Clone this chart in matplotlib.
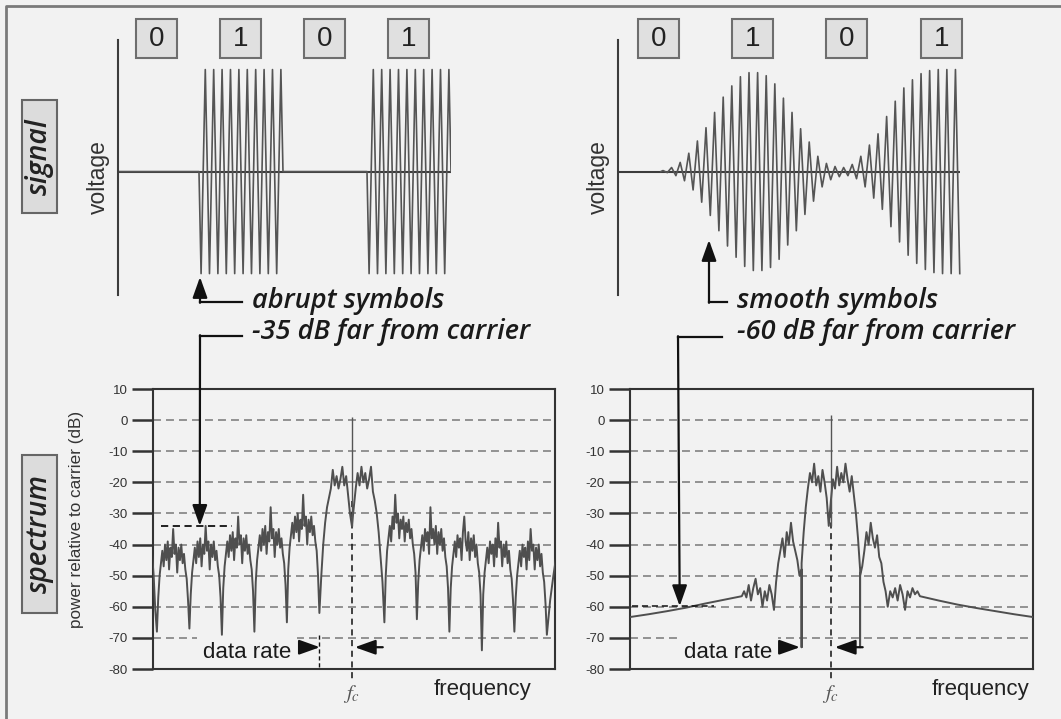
import matplotlib

matplotlib.use("Agg")
import matplotlib.pyplot as plt
import numpy as np
from matplotlib.patches import Rectangle

plt.rcParams["axes.unicode_minus"] = False

W, H = 1061, 719
BG = "#f2f2f2"
INK = "#3c3c3c"
TRACE = "#555555"
SANS = ["Liberation Sans", "DejaVu Sans"]
ITAL = ["Open Sans", "DejaVu Sans"]

# ---- data ----
bits = ["0", "1", "0", "1"]
abrupt_cycles_per_symbol = 10
# peak amplitude of each carrier cycle of the smoothed trace
smooth_cycle_amp = [0.01, 0.04, 0.09, 0.18, 0.30, 0.43, 0.58, 0.73, 0.84, 0.93,
                    0.97, 0.97, 0.94, 0.86, 0.72, 0.58, 0.42, 0.29, 0.15, 0.08,
                    0.05, 0.04, 0.07, 0.15, 0.26, 0.37, 0.54, 0.69, 0.82, 0.90,
                    0.96, 0.99, 1.0, 1.0, 1.0]

db_ticks = list(range(-80, 11, 10))
grid_db = list(range(-70, 1, 10))

# spectrum, frequency offset from carrier in units of the data rate
abrupt_edges = [-6.15, -6, -5, -4, -3, -2, -1, 1, 2, 3, 4, 5, 6, 6.3]
abrupt_lobe_db = [
    [-43, -50, -61, -68],
    [-68, -57, -50, -46, -42, -47, -40, -45, -39, -48, -41, -44, -35, -43, -40, -49, -41, -45, -40, -46, -43, -48, -51, -58, -67],
    [-67, -56, -49, -45, -41, -46, -39, -44, -38, -47, -40, -43, -34, -42, -39, -48, -40, -44, -39, -45, -42, -47, -50, -57, -69],
    [-69, -54, -47, -43, -39, -44, -37, -42, -36, -45, -38, -41, -31, -40, -37, -46, -38, -42, -37, -43, -40, -45, -48, -55, -68],
    [-68, -52, -45, -41, -37, -42, -35, -40, -34, -43, -36, -39, -28, -38, -35, -44, -36, -40, -35, -41, -38, -43, -46, -53, -65],
    [-65, -48, -41, -37, -33, -38, -31, -36, -30, -39, -32, -35, -24, -34, -31, -40, -32, -36, -31, -37, -34, -39, -42, -50, -62],
    [-62, -50, -40, -33, -28, -25, -22, -16, -21, -18, -22, -19, -15, -21, -18, -24, -30, -34,
     -28, -22, -17, -21, -15, -20, -17, -22, -19, -15, -23, -26, -30, -36, -44, -52, -65],
    [-65, -50, -42, -38, -34, -39, -31, -35, -24, -33, -30, -38, -32, -35, -31, -39, -33, -36, -32, -38, -35, -40, -43, -49, -64],
    [-64, -52, -45, -41, -37, -42, -35, -39, -36, -43, -28, -38, -35, -40, -34, -43, -36, -40, -35, -42, -38, -44, -47, -54, -68],
    [-68, -54, -47, -43, -39, -44, -37, -41, -38, -45, -36, -31, -39, -42, -36, -45, -38, -42, -37, -44, -40, -46, -49, -56, -74],
    [-74, -56, -49, -45, -41, -46, -39, -43, -40, -47, -38, -44, -33, -41, -39, -47, -40, -44, -39, -46, -42, -48, -51, -58, -68],
    [-68, -57, -50, -46, -42, -47, -40, -44, -41, -48, -39, -45, -35, -42, -40, -48, -41, -45, -40, -47, -43, -49, -52, -59, -69],
    [-69, -58, -50, -43],
]
abrupt_carrier_db = 1
abrupt_far_db = -34

smooth_edges = [-6.18, -2.74, -1.75, -0.9, -0.9, 0.9, 0.9, 1.75, 2.74, 6.22]
smooth_seg_db = [
    [-63.3, -62.4, -61.4, -60.3, -59.0, -57.8, -56.6],
    [-56.6, -55, -57, -53, -58, -54, -51, -56, -54, -60, -55, -58, -53, -56, -61],
    [-61, -52, -46, -42, -38, -44, -36, -40, -33, -39, -42, -45, -50, -48],
    [-48, -73, -46],
    [-46, -36, -28, -22, -17, -20, -14, -21, -18, -23, -16, -20, -25, -34, -26,
     -19, -22, -15, -21, -17, -20, -14, -19, -23, -18, -24, -30, -38, -48],
    [-48, -73, -50],
    [-50, -47, -42, -36, -40, -33, -38, -41, -37, -44, -46, -52, -55, -60],
    [-60, -55, -57, -54, -58, -53, -56, -61, -55, -57, -54, -56, -55, -56.6],
    [-56.6, -58.0, -59.3, -60.4, -61.4, -62.4, -63.3],
]
smooth_carrier_db = 1.5
smooth_far_db = -59.8


def rect(x0, y0, x1, y1):
    return [x0 / W, 1 - y1 / H, (x1 - x0) / W, (y1 - y0) / H]


def trace(edges, segs):
    u, d = [], []
    for a, b, vals in zip(edges[:-1], edges[1:], segs):
        u.extend(np.linspace(a, b, len(vals)))
        d.extend(vals)
    return np.array(u), np.array(d)


def arrow_props(scale=18):
    return dict(arrowstyle="-|>,head_length=0.7,head_width=0.25", color="#111111",
                lw=1.6, shrinkA=0, shrinkB=0, mutation_scale=scale)


fig = plt.figure(figsize=(W / 100, H / 100), dpi=100, facecolor=BG)


def signal_axes(x0, x1, t_lo, t_hi):
    ax = fig.add_axes(rect(x0, 40, x1, 295))
    ax.set_xlim(t_lo, t_hi)
    ax.set_ylim(-1.21, 1.29)
    ax.patch.set_alpha(0)
    for s in ["top", "right", "bottom"]:
        ax.spines[s].set_visible(False)
    ax.spines["left"].set_color(INK)
    ax.spines["left"].set_linewidth(1.5)
    ax.set_xticks([])
    ax.set_yticks([])
    ax.axhline(0, color=INK, lw=1.5, zorder=1)
    return ax


# abrupt keying
sigL = signal_axes(118, 451, 0.036, 4.0)
tl, vl = [0.0], [0.0]
for k, b in enumerate(bits):
    if b == "1":
        P = 1.0 / abrupt_cycles_per_symbol
        tl.append(k)
        vl.append(0)
        for j in range(abrupt_cycles_per_symbol):
            tl += [k + (j + 0.25) * P, k + (j + 0.75) * P]
            vl += [-1, 1]
    tl.append(k + 1)
    vl.append(0)
sigL.plot(tl, vl, color=TRACE, lw=1.2, zorder=2, solid_joinstyle="round")

# smooth keying
sigR = signal_axes(618, 960, 0.074, 3.70)
t0, P = 0.551, 0.0912
tr, vr = [t0 - 0.25 * P], [0.0]
for i, a in enumerate(smooth_cycle_amp):
    tr += [t0 + i * P, t0 + (i + 0.5) * P]
    vr += [a, -a]
sigR.plot(tr, vr, color=TRACE, lw=1.2, zorder=2, solid_joinstyle="round", clip_on=False)


def spectrum_axes(x0, x1, ulo, uhi):
    ax = fig.add_axes(rect(x0, 389, x1, 669))
    ax.set_facecolor(BG)
    ax.set_xlim(ulo, uhi)
    ax.set_ylim(-80, 10)
    ax.set_xticks([])
    ax.set_yticks(db_ticks)
    ax.tick_params(axis="y", direction="out", length=15, width=1.8, color="#333333",
                   labelsize=9.5, labelcolor="#333333", pad=3)
    for lab in ax.get_yticklabels():
        lab.set_family(SANS)
    for s in ax.spines.values():
        s.set_color("#333333")
        s.set_linewidth(1.5)
    for g in grid_db:
        ax.axhline(g, color="#8a8a8a", lw=1.3, ls=(0, (4.4, 2.8)), zorder=0.5)
    return ax


specL = spectrum_axes(153, 555, -6.12, 6.25)
specR = spectrum_axes(630, 1033, -6.18, 6.22)

ov = fig.add_axes([0, 0, 1, 1], zorder=10)
ov.set_xlim(0, W)
ov.set_ylim(H, 0)
ov.patch.set_alpha(0)
ov.axis("off")

for ax, edges, segs, carrier, dip in [
    (specL, abrupt_edges, abrupt_lobe_db, abrupt_carrier_db, -34),
    (specR, smooth_edges, smooth_seg_db, smooth_carrier_db, -34),
]:
    u, d = trace(edges, segs)
    ax.plot(u, d, color="#4f4f4f", lw=1.4, zorder=3)
    ax.vlines(0, dip, carrier, color="#555555", lw=1.0, zorder=3)
    ax.plot([0, 0], [-26, -83.5], color="#111111", lw=1.1, ls=(0, (4, 3)),
            zorder=2, clip_on=False)
    ax.text(0, -88, r"$f_c$", ha="center", va="center", fontsize=15,
            color="#555555", math_fontfamily="stix")

# data-rate markers
specL.plot([-1, -1], [-69, -80], color="#111111", lw=1.0, ls=(0, (3, 2)), zorder=2)
specL.annotate("", xy=(-0.985, -73), xytext=(-1.54, -73), arrowprops=arrow_props())
specL.annotate("", xy=(0.09, -73), xytext=(0.95, -73), arrowprops=arrow_props())
specR.annotate("", xy=(-0.95, -73), xytext=(-1.51, -73), arrowprops=arrow_props())
specR.annotate("", xy=(0.12, -73), xytext=(0.98, -73), arrowprops=arrow_props())
for ax, cx in [(specL, 247), (specR, 728)]:
    ax.text(cx, 653, "data rate", transform=ov.transData, ha="center", va="center",
            fontsize=16, family=SANS, color="#1a1a1a", zorder=1,
            bbox=dict(boxstyle="square,pad=0.25", fc=BG, ec="none"))

# far-from-carrier levels
specL.plot([-5.88, -3.69], [abrupt_far_db] * 2, color="#111111", lw=1.3,
           ls=(0, (4, 2.5)), zorder=4)
specR.plot([-6.12, -3.6], [smooth_far_db] * 2, color="#111111", lw=1.1,
           ls=(0, (4, 2.5)), zorder=4)

# frame
ov.plot([6, 6, W], [H, 6, 6], color="#7a7a7a", lw=2)

# bit boxes
for ax in (sigL, sigR):
    for k, b in enumerate(bits):
        cx = ax.transData.transform((k + 0.5, 0))[0]
        ov.add_patch(Rectangle((cx - 20.5, 19), 41, 39, fc="#e0e0e0", ec="#6e6e6e", lw=1.5))
        ov.text(cx, 39, b, ha="center", va="center", fontsize=20, family=SANS, color="#222222")

# side labels
for (y0, y1, word, fs) in [(100, 213, "signal", 20.5), (455, 613, "spectrum", 20)]:
    ov.add_patch(Rectangle((22, y0), 35, y1 - y0, fc="#dcdcdc", ec="#666666", lw=1.5))
    ov.text(39.5, (y0 + y1) / 2, word, rotation=90, ha="center", va="center",
            fontsize=fs, family=ITAL, style="italic", weight="semibold", color="#222222")

ov.text(98, 177, "voltage", rotation=90, ha="center", va="center", fontsize=16.5,
        family=SANS, color="#333333")
ov.text(598, 177, "voltage", rotation=90, ha="center", va="center", fontsize=16.5,
        family=SANS, color="#333333")
ov.text(77, 519, "power relative to carrier (dB)", rotation=90, ha="center", va="center",
        fontsize=12.3, family=SANS, color="#333333")
ov.text(483, 690, "frequency", ha="center", va="center", fontsize=16, family=SANS, color="#222222")
ov.text(980, 690, "frequency", ha="center", va="center", fontsize=16, family=SANS, color="#222222")

# callouts
for x_arr, tip_top, line_x2 in [(200, 277, 242), (709, 240, 727)]:
    ov.plot([line_x2, x_arr], [302, 302], color="#111111", lw=1.6)
    ov.annotate("", xy=(x_arr, tip_top), xytext=(x_arr, 302.8), arrowprops=arrow_props())
for x_txt, top_txt, bottom_txt in [(252, "abrupt symbols", "-35 dB far from carrier"),
                                   (737, "smooth symbols", "-60 dB far from carrier")]:
    ov.text(x_txt, 301, top_txt, ha="left", va="center", fontsize=19.5, family=ITAL,
            style="italic", weight="semibold", color="#1a1a1a")
    ov.text(x_txt, 332, bottom_txt, ha="left", va="center", fontsize=19.5, family=ITAL,
            style="italic", weight="semibold", color="#1a1a1a")

ov.plot([242, 200], [336, 336], color="#111111", lw=1.6)
ov.annotate("", xy=(-4.68, abrupt_far_db), xycoords=specL.transData, xytext=(200, 335.2),
            textcoords=ov.transData, arrowprops=arrow_props())
ov.plot([722, 678], [337, 337], color="#111111", lw=1.6)
ov.annotate("", xy=(-4.65, smooth_far_db), xycoords=specR.transData, xytext=(678, 336.2),
            textcoords=ov.transData, arrowprops=arrow_props())

fig.savefig("out.png", dpi=100, facecolor=BG)
